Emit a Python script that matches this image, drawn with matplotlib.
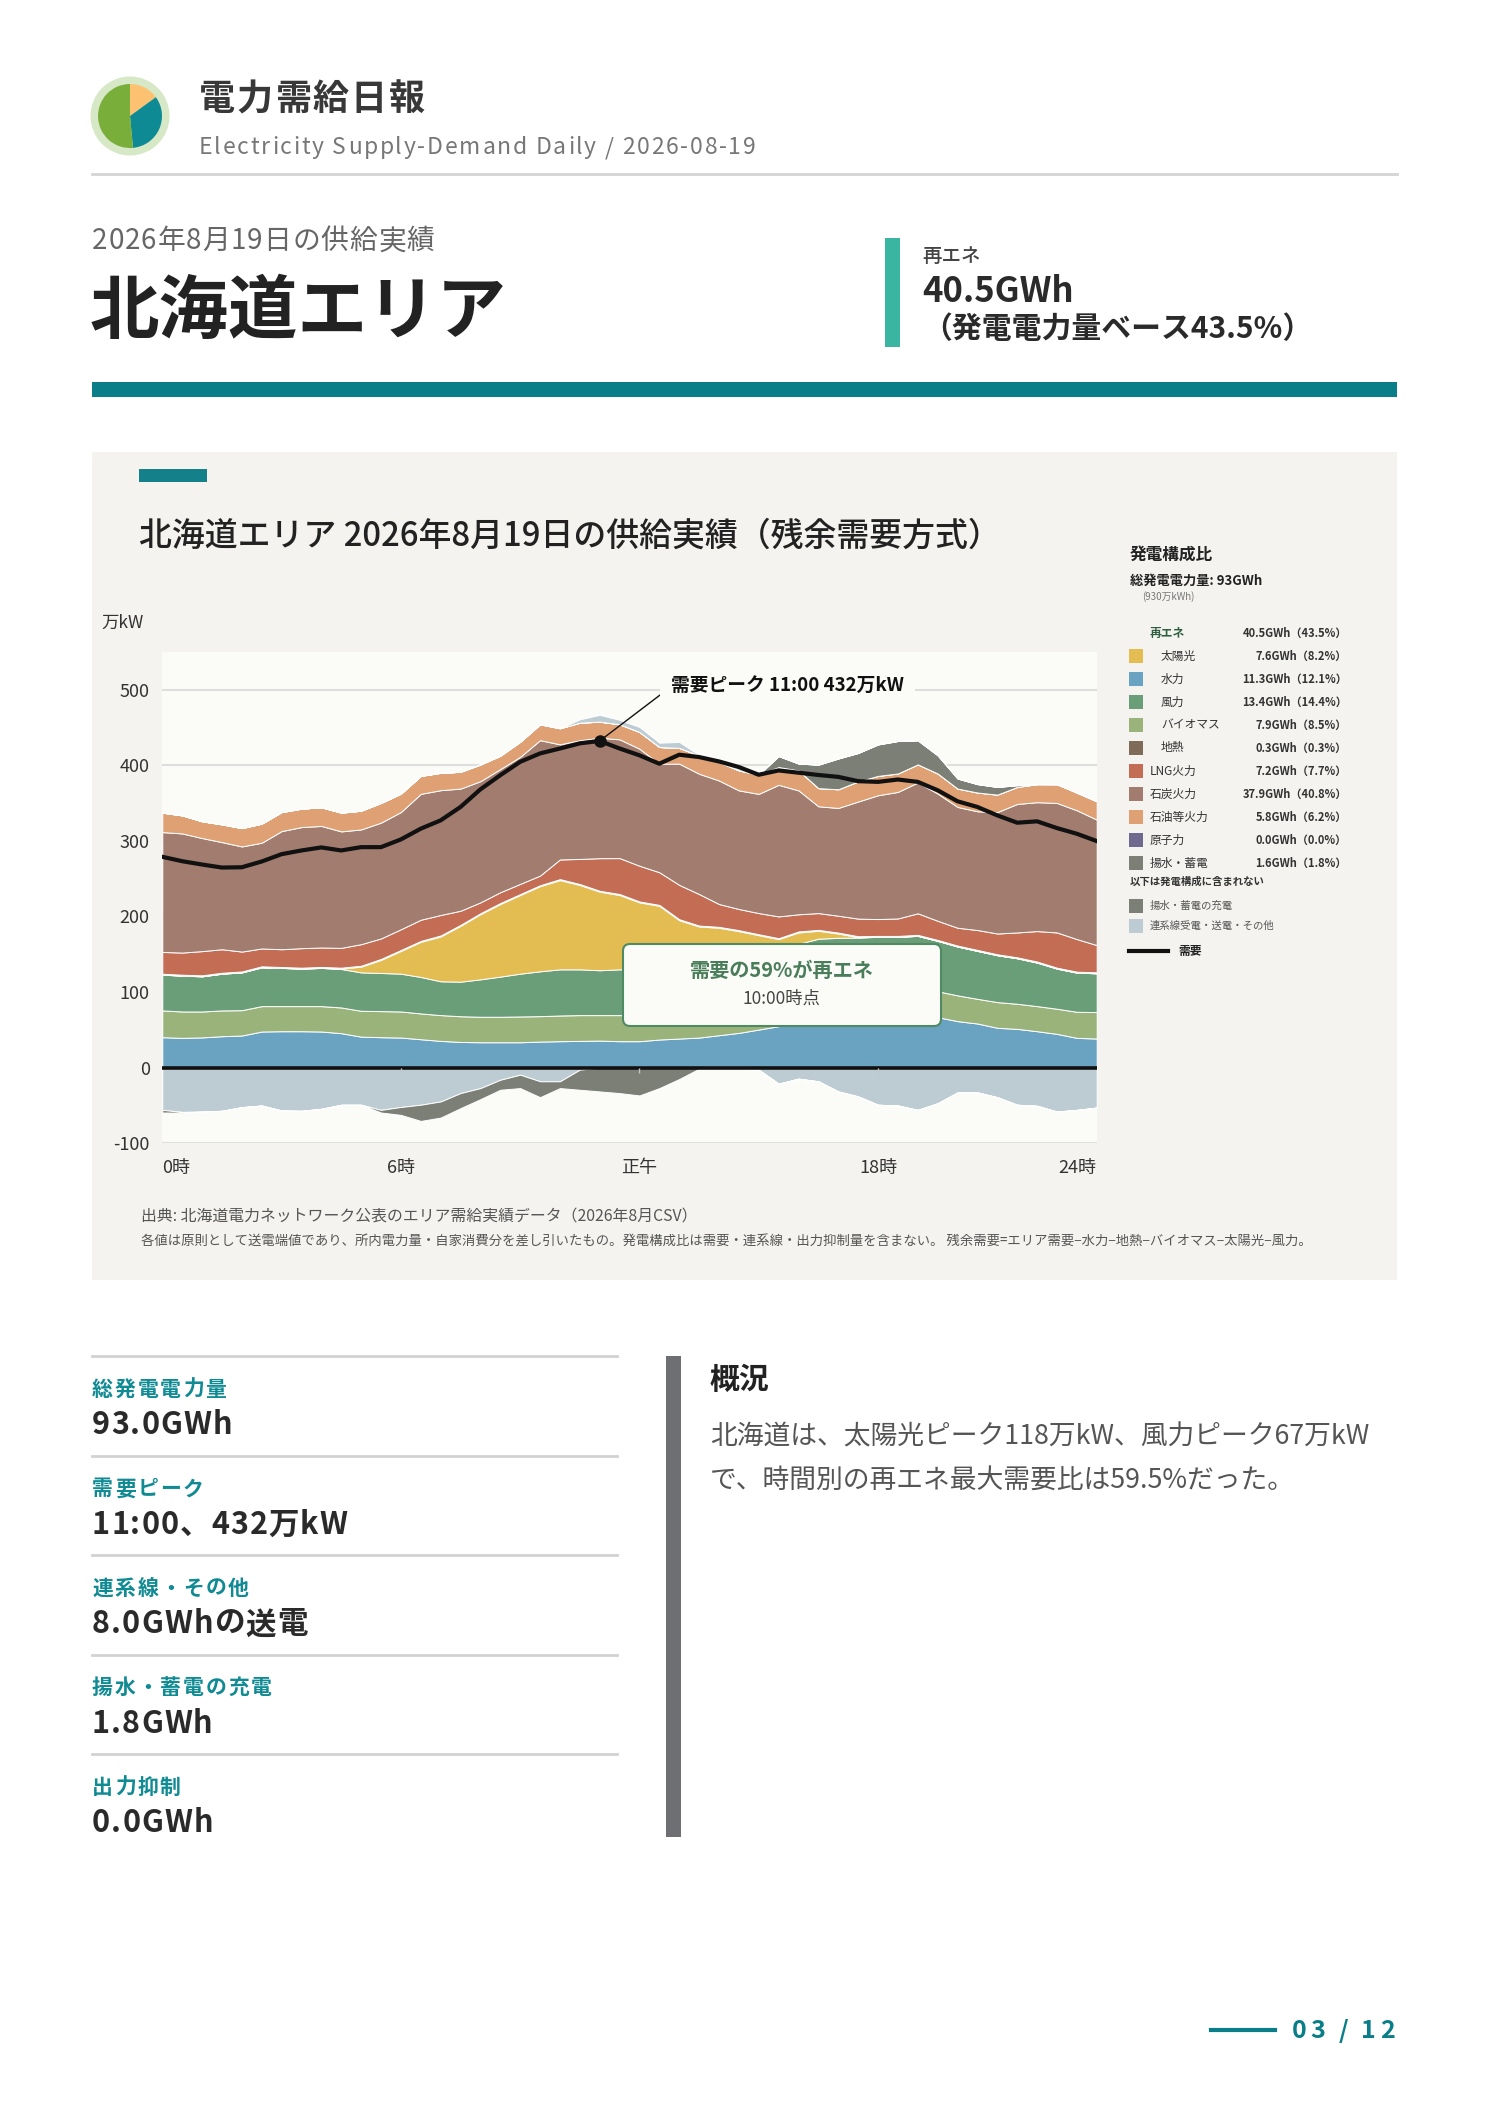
import numpy as np
import matplotlib
matplotlib.use("Agg")
import matplotlib.pyplot as plt
from matplotlib.patches import Rectangle, FancyBboxPatch, Circle
from matplotlib.lines import Line2D
from matplotlib.transforms import IdentityTransform

plt.rcParams['font.family'] = ['Noto Sans CJK JP', 'DejaVu Sans']
plt.rcParams['axes.unicode_minus'] = False

# --- data (万kW, 30-minute steps 0:00 .. 23:30) ---
hydro = [40.3, 39.4, 40.0, 41.6, 42.5, 47.8, 48.2, 48.2, 47.8, 45.6, 41.0, 40.3, 39.8, 37.6, 35.4, 34.0,
         33.6, 33.6, 33.6, 34.5, 35.0, 35.4, 35.8, 35.0, 35.0, 37.2, 38.5, 39.8, 42.9, 46.0, 50.4, 54.9,
         59.3, 66.0, 69.0, 70.5, 71.0, 71.0, 71.0, 66.8, 61.5, 58.4, 52.7, 51.3, 48.2, 44.7, 39.4, 38.5]
biomass = [35.4, 34.9, 34.3, 34.1, 33.5, 33.6, 33.2, 33.2, 33.6, 34.0, 34.2, 34.5, 34.5, 34.1, 34.1, 34.0,
           33.7, 33.7, 34.1, 33.6, 34.0, 34.1, 33.7, 34.5, 34.5, 34.5, 34.6, 34.7, 34.8, 35.0, 35.2, 35.3,
           35.5, 36.0, 36.0, 36.0, 36.0, 36.0, 36.0, 34.2, 34.1, 32.6, 34.0, 33.2, 33.2, 33.2, 34.5, 35.0]
wind = [47.3, 47.4, 46.5, 48.6, 50.0, 51.3, 50.5, 49.6, 50.5, 50.9, 50.8, 50.4, 50.0, 48.2, 44.7, 45.7,
        49.5, 53.1, 56.6, 59.3, 61.0, 60.5, 59.3, 60.5, 61.0, 61.5, 63.0, 64.0, 65.0, 66.0, 66.5, 67.0,
        69.0, 68.5, 66.7, 65.5, 66.0, 66.0, 67.3, 66.7, 64.6, 63.4, 62.0, 60.2, 57.6, 53.1, 51.8, 51.3]
solar = [0, 0, 0, 0, 0, 0, 0, 0, 0, 0.5, 7.6, 17.3, 30.1, 46.5, 59.3, 73.9,
         86.2, 96.0, 104.0, 112.6, 118.0, 111.6, 103.9, 98.3, 88.1, 80.8, 58.9, 48.2, 42.3, 33.5, 23.1, 12.8,
         15.0, 10.5, 5.7, 0.5, 0, 0, 0, 0, 0, 0, 0, 0, 0, 0, 0, 0]
geothermal = [1.2, 1.2, 1.3, 1.2, 1.2, 1.3, 1.2, 1.2, 1.3, 1.2, 1.2, 1.3, 1.2, 1.2, 1.3, 1.2,
              1.2, 1.3, 1.2, 1.2, 1.3, 1.2, 1.2, 1.3, 1.2, 1.2, 1.3, 1.2, 1.2, 1.3, 1.2, 1.2,
              1.3, 1.2, 1.2, 1.3, 1.2, 1.2, 1.3, 1.2, 1.2, 1.3, 1.2, 1.2, 1.3, 1.2, 1.2, 1.3]
lng = [28.8, 29.3, 32.0, 31.1, 26.3, 23.6, 23.5, 25.8, 25.7, 26.2, 28.5, 27.1, 27.4, 28.0, 27.1, 18.7,
       14.4, 14.3, 13.5, 12.8, 26.0, 33.2, 43.1, 47.5, 47.2, 43.2, 45.4, 41.7, 30.2, 28.0, 28.0, 28.8,
       22.7, 22.2, 22.3, 23.3, 22.3, 23.1, 28.5, 25.3, 23.6, 26.3, 27.5, 32.9, 40.3, 46.6, 43.1, 36.0]
coal = [158.5, 157.5, 149.5, 141.6, 139.0, 139.8, 156.2, 160.1, 160.7, 154.0, 151.7, 153.1, 155.0, 166.4, 165.0, 161.5,
        160.2, 162.8, 168.0, 179.0, 152.2, 157.0, 159.3, 157.0, 154.7, 143.5, 160.3, 159.0, 163.3, 156.8, 157.6, 174.0,
        163.8, 141.2, 142.5, 154.8, 163.7, 167.3, 173.0, 168.2, 159.7, 157.0, 160.6, 169.9, 170.4, 171.2, 170.3, 165.9]
oil = [25.7, 23.9, 22.2, 23.5, 24.3, 25.3, 25.2, 24.4, 24.7, 24.8, 24.8, 26.1, 24.4, 23.8, 23.0, 22.2,
       22.1, 17.7, 20.0, 21.0, 21.3, 23.2, 21.2, 20.0, 22.2, 22.1, 20.8, 24.3, 24.4, 26.5, 25.3, 23.5,
       26.5, 24.0, 24.7, 26.6, 25.6, 24.4, 23.9, 26.6, 24.3, 24.8, 23.0, 22.5, 23.9, 24.8, 23.4, 24.3]
nuclear = [0.0] * 48
pumped = [0, 0, 0, 0, 0, 0, 0, 0, 0, 0, 0, 0, 0, 0, 0, 0,
          0, 0, 0, 0, 0, 0, 0, 0, 0, 0, 0, 0, 0, 0, 0, 14.5,
          9.0, 31.0, 40.7, 37.6, 41.6, 42.9, 31.8, 24.0, 13.3, 11.1, 10.2, 2.3, 0, 0, 0, 0]
tie_in = [0, 0, 0, 0, 0, 0, 0, 0, 0, 0, 0, 0, 0, 0, 0, 0,
          0, 0, 0, 0, 0, 4.4, 9.0, 5.8, 6.6, 5.7, 7.9, 0.5, 1.5, 2.0, 1.0, 0,
          0, 0, 0, 0, 0, 0, 0, 0, 0, 0, 0, 0, 0, 0, 0, 0]
tie_out = [55.8, 58.5, 58.0, 57.0, 52.2, 50.0, 56.6, 57.0, 54.4, 49.0, 49.0, 55.8, 52.0, 49.0, 44.7, 33.6,
           27.0, 16.0, 9.3, 18.0, 18.0, 2.6, 0, 0, 0, 0, 0, 0, 0, 0, 2.6, 21.2,
           14.5, 18.0, 31.4, 38.0, 49.0, 50.0, 55.8, 47.0, 32.7, 32.7, 39.0, 49.0, 50.4, 58.0, 55.8, 52.7]
charge = [3.5, 1.0, 0, 0, 0, 0, 0, 0, 0, 0, 0, 3.5, 10.4, 21.4, 21.3, 19.9,
          14.6, 13.2, 17.7, 21.0, 9.0, 26.6, 31.4, 33.6, 36.7, 27.0, 15.0, 1.3, 0, 0, 0, 0,
          0, 0, 0, 0, 0, 0, 0, 0, 0, 0, 0, 0, 0, 0, 0, 0]
demand = [278.8, 273.0, 268.6, 264.6, 265.0, 272.6, 282.3, 287.2, 291.2, 287.2, 291.6, 291.6, 301.8, 316.0, 327.0, 344.7,
          368.0, 386.7, 404.4, 415.5, 422.0, 428.8, 432.0, 422.0, 413.0, 401.9, 413.8, 410.7, 404.9, 397.5, 387.3, 393.0,
          390.0, 387.0, 384.5, 378.8, 377.9, 381.0, 377.9, 366.8, 352.2, 344.7, 333.6, 323.9, 325.7, 316.8, 309.3, 299.6]

tick_pos = [0, 12, 24, 36, 47]
tick_labels = ['0時', '6時', '正午', '18時', '24時']

legend_names = ['太陽光', '水力', '風力', 'バイオマス', '地熱', 'LNG火力', '石炭火力', '石油等火力', '原子力', '揚水・蓄電']
legend_gwh = [7.6, 11.3, 13.4, 7.9, 0.3, 7.2, 37.9, 5.8, 0.0, 1.6]
legend_pct = [8.2, 12.1, 14.4, 8.5, 0.3, 7.7, 40.8, 6.2, 0.0, 1.8]
renew_gwh, renew_pct = 40.5, 43.5

stat_labels = ['総発電電力量', '需要ピーク', '連系線・その他', '揚水・蓄電の充電', '出力抑制']
stat_values = ['93.0GWh', '11:00、432万kW', '8.0GWhの送電', '1.8GWh', '0.0GWh']

logo_shares = [15, 33.5, 51.5]

# --- colours ---
C = {'solar': '#e3bc52', 'hydro': '#6aa2c1', 'wind': '#6a9e79', 'biomass': '#9ab37b',
     'geo': '#7f6b57', 'lng': '#c36d55', 'coal': '#a27c6e', 'oil': '#dfa073',
     'nuclear': '#6f6990', 'pumped': '#7b7f76', 'tie': '#bdccd2'}
TEAL = '#0a7e88'

W, H = 1488, 2105
fig = plt.figure(figsize=(W / 100, H / 100), dpi=100)
fig.patch.set_facecolor('white')
renderer = fig.canvas.get_renderer()


def text(x, y, s, size, color='#222', weight='normal', ha='left', va='center', z=3):
    fig.text(x / W, 1 - y / H, s, fontsize=size, color=color, fontweight=weight,
             ha=ha, va=va, zorder=z)


def text_w(s, size, weight):
    t = fig.text(0, 0, s, fontsize=size, fontweight=weight)
    w = t.get_window_extent(renderer).width
    t.remove()
    return w


def stext(x, y, s, size, color='#222', weight='normal', track=0.0, ha='left', z=3):
    # letter-spaced text, y is the visual centre of the line
    base = text_w('xx', size, weight)
    widths = [text_w('x' + c + 'x', size, weight) - base for c in s]
    total = sum(widths) + track * (len(s) - 1)
    if ha == 'right':
        x -= total
    elif ha == 'center':
        x -= total / 2
    yb = y + 0.37 * size * 100 / 72
    for c, w in zip(s, widths):
        if c != ' ':
            fig.text(x / W, 1 - yb / H, c, fontsize=size, color=color, fontweight=weight,
                     ha='left', va='baseline', zorder=z)
        x += w + track


def rect(x0, y0, x1, y1, color, z=1):
    fig.add_artist(Rectangle((x0 / W, 1 - y1 / H), (x1 - x0) / W, (y1 - y0) / H,
                             transform=fig.transFigure, facecolor=color, edgecolor='none', zorder=z))


def hline(x0, x1, y, color, lw, z=1):
    fig.add_artist(Line2D([x0 / W, x1 / W], [1 - y / H, 1 - y / H], transform=fig.transFigure,
                          color=color, lw=lw, zorder=z))


# --- header ---
lax = fig.add_axes([(130 - 40) / W, 1 - (116 + 40) / H, 80 / W, 80 / H])
lax.add_patch(Circle((0, 0), 0.97, color='#d6e8c6'))
lax.pie(logo_shares, colors=['#fcc271', '#0e8a94', '#7aae3a'], startangle=90,
        counterclock=False, radius=0.8, center=(0, 0))
lax.set_aspect('equal')
lax.set_xlim(-1, 1)
lax.set_ylim(-1, 1)
lax.axis('off')

stext(199, 97, '電力需給日報', 26, '#383838', 'bold', track=1.8)
stext(199, 146, 'Electricity Supply-Demand Daily / 2026-08-19', 16.5, '#777', track=1.75)
hline(92, 1397, 174, '#d4d4d4', 2)

stext(92, 239, '2026年8月19日の供給実績', 20, '#666', track=0.9)
text(90, 313, '北海道エリア', 50, '#222', 'bold')
rect(885, 238, 900, 347, '#3ab5a2')
text(922, 256, '再エネ', 14, '#444', 'medium')
text(922, 291, f'{renew_gwh}GWh', 25, '#2a2a2a', 'bold')
text(922, 329, f'（発電電力量ベース{renew_pct}%）', 21.5, '#2a2a2a', 'bold')
rect(92, 382, 1397, 397, TEAL)

# --- chart panel ---
rect(92, 452, 1397, 1280, '#f4f3f0', z=-10)
rect(139, 469, 207, 482, '#13808a')
text(139, 536, '北海道エリア 2026年8月19日の供給実績（残余需要方式）', 23.7, '#222', 'medium')
text(101, 623, '万kW', 12.5, '#333')

x = np.arange(len(demand))
ax = fig.add_axes([162.3 / W, 1 - 1143.3 / H, 934.4 / W, 491.6 / H])
ax.set_facecolor('#fbfbf8')
ax.stackplot(x, hydro, biomass, wind, solar, geothermal, lng, coal, oil, nuclear, pumped, tie_in,
             colors=[C['hydro'], C['biomass'], C['wind'], C['solar'], C['geo'], C['lng'],
                     C['coal'], C['oil'], C['nuclear'], C['pumped'], C['tie']],
             edgecolor='white', linewidth=0.7, zorder=2)
ax.stackplot(x, -np.array(tie_out), -np.array(charge), colors=[C['tie'], C['pumped']],
             edgecolor='white', linewidth=0.7, zorder=2)
ax.axhline(0, color='#111', lw=2.6, zorder=4)
ax.vlines(tick_pos[1:-1], -7, 0, colors='#c4c4c4', lw=1, zorder=4)
ax.plot(x, demand, color='#111', lw=3, zorder=6, solid_joinstyle='round')

p = int(np.argmax(demand))
ax.plot(x[p], demand[p], 'o', color='#111', ms=8, zorder=7)
peak_label = f'需要ピーク {p // 2:02d}:{(p % 2) * 30:02d} {demand[p]:.0f}万kW'
ax.annotate(peak_label, xy=(x[p], demand[p]), xytext=(25.6, 504), ha='left', va='center',
            fontsize=13.5, fontweight='bold', color='#111', zorder=8,
            bbox=dict(boxstyle='square,pad=0.6', fc='#fbfbf8', ec='none'),
            arrowprops=dict(arrowstyle='-', color='#111', lw=1, relpos=(0, 0.5),
                            shrinkA=0, shrinkB=4))

ax.set_xlim(0, len(demand) - 1)
ax.set_ylim(-100, 550)
ax.set_yticks(range(-100, 501, 100))
ax.yaxis.grid(True, color='#dedede', lw=1.5)
ax.set_axisbelow(True)
ax.set_xticks(tick_pos)
ax.set_xticklabels(tick_labels)
ax.get_xticklabels()[0].set_ha('left')
ax.get_xticklabels()[-1].set_ha('right')
ax.tick_params(axis='y', length=0, pad=9, labelsize=13, labelcolor='#333')
ax.tick_params(axis='x', length=0, pad=11, labelsize=13, labelcolor='#333')
for s in ax.spines.values():
    s.set_visible(False)

# renewable share call-out
box = FancyBboxPatch((623, H - 1026), 318, 82, boxstyle='round,pad=0,rounding_size=7',
                     transform=IdentityTransform(), fc='#fbfbf8', ec='#4f8a63', lw=1.5, zorder=9)
fig.add_artist(box)
text(782, 970, '需要の59%が再エネ', 14.5, '#4a7d5a', 'bold', ha='center', z=10)
text(782, 999, '10:00時点', 12.5, '#444', ha='center', z=10)

# legend
text(1130, 555, '発電構成比', 12, '#222', 'bold')
text(1130, 581, '総発電電力量: 93GWh', 9.5, '#222', 'bold')
text(1142, 597, '(930万kWh)', 7, '#777')
text(1150, 633, '再エネ', 8.5, '#2e5e3e', 'bold')
text(1347, 633, f'{renew_gwh:.1f}GWh（{renew_pct:.1f}%）', 8, '#333', 'bold', ha='right')
leg_colors = [C['solar'], C['hydro'], C['wind'], C['biomass'], C['geo'], C['lng'],
              C['coal'], C['oil'], C['nuclear'], C['pumped']]
for k, name in enumerate(legend_names):
    yy = 656 + 23 * k
    rect(1129, yy - 7, 1143, yy + 7, leg_colors[k])
    text(1161 if k < 5 else 1150, yy, name, 8.5, '#333')
    text(1347, yy, f'{legend_gwh[k]:.1f}GWh（{legend_pct[k]:.1f}%）', 8, '#333', 'bold', ha='right')
text(1130, 882, '以下は発電構成に含まれない', 7.5, '#333', 'bold')
rect(1129, 899, 1143, 913, C['pumped'])
text(1150, 906, '揚水・蓄電の充電', 7.5, '#555')
rect(1129, 919, 1143, 933, C['tie'])
text(1150, 926, '連系線受電・送電・その他', 7.5, '#555')
hline(1129, 1168, 951, '#111', 3)
text(1178, 951, '需要', 8.5, '#222', 'bold')

text(141, 1217, '出典: 北海道電力ネットワーク公表のエリア需給実績データ（2026年8月CSV）', 11.4, '#555')
text(141, 1242, '各値は原則として送電端値であり、所内電力量・自家消費分を差し引いたもの。発電構成比は需要・連系線・'
     '出力抑制量を含まない。 残余需要=エリア需要−水力−地熱−バイオマス−太陽光−風力。', 9.6, '#555')

# --- stats ---
for k in range(len(stat_labels)):
    y0 = 1356 + 99.5 * k
    hline(92, 617, y0, '#d2d2d2', 2)
    stext(92, y0 + 32, stat_labels[k], 15, '#108a93', 'bold', track=1.8)
    stext(92, y0 + 67, stat_values[k], 22, '#2a2a2a', 'bold', track=1.1)

rect(666, 1356, 681, 1837, '#6e6f73')
text(710, 1380, '概況', 21.5, '#222', 'bold')
text(710, 1437, '北海道は、太陽光ピーク118万kW、風力ピーク67万kW', 19.3, '#555')
text(710, 1480, 'で、時間別の再エネ最大需要比は59.5%だった。', 19.3, '#555')

# --- footer ---
hline(1211, 1275, 2030, TEAL, 3)
stext(1292, 2029, '03 / 12', 18, TEAL, 'bold', track=3.8)

fig.savefig('out.png', dpi=100)
